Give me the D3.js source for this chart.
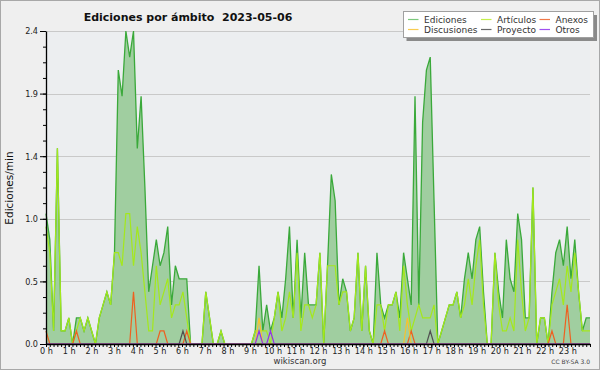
<!DOCTYPE html>
<html><head><meta charset="utf-8">
<script src="https://cdn.jsdelivr.net/npm/d3@7"></script>
<style>
html,body{margin:0;padding:0;background:#efefef;}
svg{display:block;}
.tick text{font-family:"Liberation Sans Narrow","DejaVu Sans Condensed","DejaVu Sans",sans-serif;font-size:9px;fill:#222;}
</style>
</head><body>
<svg id="chart" width="600" height="370"></svg>
<script>
// ---- data (edits per minute, 10-minute bins, 2023-05-06) ----
const hourLabels = ["0 h","1 h","2 h","3 h","4 h","5 h","6 h","7 h","8 h","9 h","10 h","11 h",
  "12 h","13 h","14 h","15 h","16 h","17 h","18 h","19 h","20 h","21 h","22 h","23 h"];
const yTickValues = [0, 0.48, 0.96, 1.44, 1.92, 2.4];

const ediciones = [
  1.0,0.8,0.1,1.5,0.1,0.1,0.2,0,0.2,0.2,0.1,0.2,
  0.1,0,0.2,0.3,0.4,0.3,0.7,2.1,1.9,2.4,2.2,2.4,
  1.5,1.9,1.2,0.4,0.6,0.8,0.6,0.7,0.9,0.3,0.6,0.5,
  0.5,0.5,0,0,0,0,0.4,0.2,0,0,0.1,0,
  0,0,0,0,0,0,0,0.1,0.6,0.1,0.3,0.1,
  0.2,0.4,0.2,0.5,0.9,0.2,0.8,0.2,0.7,0.3,0.3,0.3,
  0.7,0,0.6,1.3,1.1,0.3,0.5,0.4,0.1,0.2,0.7,0.1,
  0.6,0.1,0,0.7,0.3,0.2,0.3,0.3,0.4,0.2,0.7,0.5,
  0.3,1.9,0.3,1.7,2.1,2.2,1.1,0,0.1,0.2,0.3,0.3,
  0.4,0.2,0.5,0.7,0.5,0.8,0.9,0.4,0,0,0.7,0.4,
  0.2,0.8,0.5,0.4,1.0,0.8,0.2,0.2,1.2,0,0.2,0.2,
  0,0.4,0.7,0.8,0.6,0.9,0.5,0.8,0.4,0.1,0.2,0.2
];
const articulos = [
  0.9,0.7,0.1,1.5,0.1,0.1,0.2,0,0.1,0.2,0.1,0.2,
  0.1,0,0.2,0.3,0.4,0.3,0.7,0.7,0.6,1.0,1.0,0.6,
  0.9,0.7,0.4,0.1,0.1,0.6,0.3,0.4,0.5,0.2,0.3,0.3,
  0.4,0.2,0,0,0,0,0.4,0.2,0,0,0.1,0,
  0,0,0,0,0,0,0,0.1,0.1,0.1,0.1,0,
  0.2,0.4,0.1,0.2,0.4,0.2,0.7,0.1,0.3,0.3,0.2,0.3,
  0.7,0,0.6,0.6,0.6,0.3,0.4,0.4,0.1,0.2,0.7,0.1,
  0.6,0.1,0,0.3,0.3,0.1,0.3,0.3,0.4,0.1,0.6,0.3,
  0.1,0.2,0.3,0.2,0.2,0.2,0.3,0,0.1,0.2,0.3,0.3,
  0.4,0.2,0.3,0.5,0.3,0.6,0.8,0.3,0,0,0.7,0.3,
  0.1,0.1,0.2,0.1,0.8,0.4,0.1,0.2,1.2,0,0.2,0.2,
  0,0.3,0.4,0.5,0.3,0.6,0.4,0.7,0.4,0.1,0.1,0.1
];
const anexos = [
  0.1,0,0,0,0,0,0,0,0.1,0,0,0,
  0,0,0,0,0,0,0,0,0,0,0,0.4,
  0,0,0,0,0,0,0.1,0.1,0,0,0,0,
  0,0.1,0,0,0,0,0,0,0,0,0,0,
  0,0,0,0,0,0,0,0,0,0,0,0,
  0,0,0,0,0,0,0,0,0,0,0,0,
  0,0,0,0,0,0,0,0,0,0,0,0,
  0,0,0,0,0,0.1,0,0,0,0,0,0,
  0.1,0,0,0,0,0,0,0,0,0,0,0,
  0,0,0,0,0,0,0,0,0,0,0,0,
  0,0,0,0,0,0,0,0,0,0,0,0,
  0,0.1,0,0,0,0.3,0,0,0,0,0,0
];
const discusiones = [
  0,0,0,0,0,0,0,0,0,0,0,0,
  0,0,0,0,0,0,0,0,0,0,0,0,
  0,0,0,0,0,0,0,0,0,0,0,0,
  0,0,0,0,0,0,0,0,0,0,0,0,
  0,0,0,0,0,0,0,0,0.2,0,0,0,
  0,0,0,0,0,0,0,0,0,0,0,0,
  0,0,0,0,0,0,0,0,0,0,0,0,
  0,0,0,0,0,0,0,0,0,0,0,0.2,
  0,0,0,0,0,0,0,0,0,0,0,0,
  0,0,0,0,0,0,0,0,0,0,0,0,
  0,0,0,0,0,0,0,0,0,0,0,0,
  0,0,0,0,0,0,0,0,0,0,0,0
];
const proyecto = [
  0,0,0,0,0,0,0,0,0,0,0,0,
  0,0,0,0,0,0,0,0,0,0,0,0,
  0,0,0,0,0,0,0,0,0,0,0,0,
  0.1,0,0,0,0,0,0,0,0,0,0,0,
  0,0,0,0,0,0,0,0,0,0,0,0,
  0,0,0,0,0,0,0,0,0,0,0,0,
  0,0,0,0,0,0,0,0,0,0,0,0,
  0,0,0,0,0,0,0,0,0,0,0,0,
  0,0,0,0,0,0.1,0,0,0,0,0,0,
  0,0,0,0,0,0,0,0,0,0,0,0,
  0,0,0,0,0,0,0,0,0,0,0,0,
  0,0,0,0,0,0,0,0,0,0,0,0
];
const otros = [
  0,0,0,0,0,0,0,0,0,0,0,0,
  0,0,0,0,0,0,0,0,0,0,0,0,
  0,0,0,0,0,0,0,0,0,0,0,0,
  0,0,0,0,0,0,0,0,0,0,0,0,
  0,0,0,0,0,0,0,0,0.1,0,0,0.1,
  0,0,0,0,0,0,0,0,0,0,0,0,
  0,0,0,0,0,0,0,0,0,0,0,0,
  0,0,0,0,0,0,0,0,0,0,0,0,
  0,0,0,0,0,0,0,0,0,0,0,0,
  0,0,0,0,0,0,0,0,0,0,0,0,
  0,0,0,0,0,0,0,0,0,0,0,0,
  0,0,0,0,0,0,0,0,0,0,0,0
];
const seriesNames = ["Ediciones","Artículos","Anexos","Discusiones","Proyecto","Otros"];
const seriesColors = ["#3aa93a","#a4e81c","#ee6020","#f5c230","#505050","#9433e8"];
const legendColors = ["#7cc87c","#c4ee4c","#f07848","#f8cc50","#686868","#a050f0"];

// ---- layout ----
const svg = d3.select("#chart");
const W = 600, H = 370;
const pL = 46, pR = 590, pT = 31, pB = 344;

svg.append("rect").attr("x",0.5).attr("y",0.5).attr("width",W-1).attr("height",H-1)
  .attr("fill","#efefef").attr("stroke","#a8a8a8");
svg.append("rect").attr("x",pL).attr("y",pT).attr("width",pR-pL).attr("height",pB-pT)
  .attr("fill","#eceef0");

const xData = d3.scaleLinear().domain([0, ediciones.length-1]).range([pL, pR]);
const xHour = d3.scaleLinear().domain([0, 24]).range([pL, pR]);
const y = d3.scaleLinear().domain([0, 2.4]).range([pB, pT]);

// grid
svg.append("g").selectAll("line").data(yTickValues.slice(1)).join("line")
  .attr("x1",pL).attr("x2",pR)
  .attr("y1",d=>Math.round(y(d))+0.5).attr("y2",d=>Math.round(y(d))+0.5)
  .attr("stroke","#c9c9c9").attr("stroke-width",1);

// area + lines
const area = d3.area().x((d,i)=>xData(i)).y0(pB).y1(d=>y(d));
const line = d3.line().x((d,i)=>xData(i)).y(d=>y(d));
svg.append("path").datum(ediciones).attr("d",area).attr("fill","#a0cea0");
svg.append("path").datum(ediciones).attr("d",line).attr("fill","none")
  .attr("stroke",seriesColors[0]).attr("stroke-width",1.3);
[articulos, anexos, discusiones, proyecto, otros].forEach((s,k)=>{
  svg.append("path").datum(s).attr("d",line).attr("fill","none")
    .attr("stroke",seriesColors[k+1]).attr("stroke-width",1.2);
});

// y axis
const fmt = d3.format(".1f");
svg.append("g").attr("transform",`translate(${pL},0)`)
  .call(d3.axisLeft(y).tickValues(d3.range(0,21).map(i=>i*0.12)).tickSize(3).tickFormat(""))
  .call(g=>g.select(".domain").remove())
  .selectAll("line").attr("stroke","#000");
const yAx = svg.append("g").attr("transform",`translate(${pL},0)`)
  .call(d3.axisLeft(y).tickValues(yTickValues).tickFormat(fmt).tickSize(6).tickSizeOuter(0).tickPadding(2));
yAx.select(".domain").attr("stroke","#000").attr("stroke-width",1.3);
yAx.selectAll(".tick line").attr("stroke","#000");

// x axis
svg.append("g").attr("transform",`translate(0,${pB})`)
  .call(d3.axisBottom(xHour).tickValues(d3.range(0,145).map(i=>i/6)).tickSize(3).tickFormat(""))
  .call(g=>g.select(".domain").remove())
  .selectAll("line").attr("stroke","#000");
const xAx = svg.append("g").attr("transform",`translate(0,${pB})`)
  .call(d3.axisBottom(xHour).tickValues(d3.range(24)).tickFormat(i=>hourLabels[i]).tickSize(3).tickSizeOuter(0).tickPadding(1));
xAx.select(".domain").attr("stroke","#000").attr("stroke-width",1.3);
xAx.selectAll(".tick line").attr("stroke","#000");

// axis title
svg.append("text").attr("transform","translate(13,188) rotate(-90)")
  .attr("text-anchor","middle").attr("font-family","DejaVu Sans").attr("font-size","10.5px")
  .attr("fill","#111").text("Ediciones/min");

// title
svg.append("text").attr("x",188).attr("y",21).attr("text-anchor","middle")
  .attr("font-family","DejaVu Sans").attr("font-weight","bold").attr("font-size","11px")
  .style("white-space","pre").attr("fill","#111")
  .text("Ediciones por ámbito  2023-05-06");

// footer
svg.append("text").attr("x",300).attr("y",364).attr("text-anchor","middle")
  .attr("font-family","DejaVu Sans").attr("font-size","8.5px").attr("fill","#333").text("wikiscan.org");
svg.append("text").attr("x",590).attr("y",364).attr("text-anchor","end")
  .attr("font-family","DejaVu Sans").attr("font-size","6px").attr("fill","#444").text("CC BY-SA 3.0");

// legend
const lg = svg.append("g");
lg.append("rect").attr("x",406.5).attr("y",15).attr("width",190.5).attr("height",26).attr("fill","#8a8a8a");
lg.append("rect").attr("x",403.5).attr("y",11.5).attr("width",190).attr("height",26)
  .attr("fill","#fff").attr("stroke","#a0a0a0");
const cols = [408, 481, 539.5], rows = [19, 29];
seriesNames.forEach((name,j)=>{
  const cx = cols[j%3], cy = rows[Math.floor(j/3)];
  lg.append("line").attr("x1",cx).attr("x2",cx+10.5).attr("y1",cy+0.5).attr("y2",cy+0.5)
    .attr("stroke",legendColors[j]).attr("stroke-width",1.2);
  lg.append("text").attr("x",cx+16).attr("y",cy+3.5)
    .attr("font-family","DejaVu Sans").attr("font-size","9px").attr("fill","#333").text(name);
});
</script>
</body></html>
